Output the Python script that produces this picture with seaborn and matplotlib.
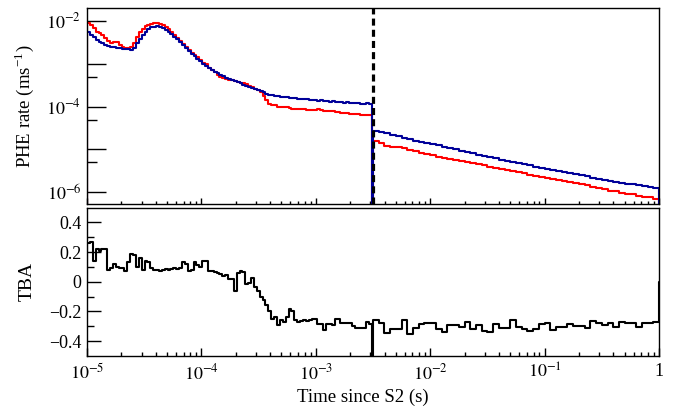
import numpy as np
import matplotlib
matplotlib.use("Agg")
import matplotlib.pyplot as plt
from matplotlib.ticker import FixedLocator, FuncFormatter, NullFormatter, LogLocator
import seaborn as sns

# ---------------------------------------------------------------- data
# Binning: ~40 log bins per decade from 10 us up to the end of the S2 window,
# a narrow empty bin at the window edge, then 20 log bins per decade to 1 s.
s2_window_end = 3.16e-3
gap_start = 3.10e-3
fast_edges = np.logspace(-5, np.log10(gap_start), 100)
slow_edges = np.logspace(np.log10(s2_window_end), 0, 51)

# PHE rate (ms^-1), bins inside the S2 window
blue_fast = [
    5.41e-3, 4.78e-3, 4.29e-3, 3.65e-3, 3.28e-3, 3.11e-3, 2.79e-3, 2.57e-3, 2.46e-3, 2.46e-3,
    2.37e-3, 2.34e-3, 2.25e-3, 2.21e-3, 2.19e-3, 2.05e-3, 2.37e-3, 3.11e-3, 3.85e-3, 4.78e-3,
    5.62e-3, 6.43e-3, 7.16e-3, 7.36e-3, 7.47e-3, 7.36e-3, 6.79e-3, 6.26e-3, 5.47e-3, 4.91e-3,
    4.29e-3, 3.85e-3, 3.28e-3, 2.79e-3, 2.37e-3, 2.02e-3, 1.72e-3, 1.50e-3, 1.31e-3, 1.18e-3,
    1.00e-3, 9.00e-4, 7.96e-4, 7.07e-4, 6.52e-4, 6.01e-4, 5.54e-4, 5.11e-4, 4.72e-4, 4.47e-4,
    4.23e-4, 4.01e-4, 3.80e-4, 3.51e-4, 3.24e-4, 2.98e-4, 2.83e-4, 2.75e-4, 2.61e-4, 2.47e-4,
    2.34e-4, 2.16e-4, 1.99e-4, 1.89e-4, 1.84e-4, 1.79e-4, 1.74e-4, 1.70e-4, 1.65e-4, 1.65e-4,
    1.61e-4, 1.56e-4, 1.56e-4, 1.52e-4, 1.52e-4, 1.48e-4, 1.48e-4, 1.44e-4, 1.44e-4, 1.40e-4,
    1.37e-4, 1.40e-4, 1.37e-4, 1.33e-4, 1.30e-4, 1.33e-4, 1.30e-4, 1.26e-4, 1.26e-4, 1.23e-4,
    1.26e-4, 1.23e-4, 1.19e-4, 1.19e-4, 1.19e-4, 1.16e-4, 1.16e-4, 1.19e-4, 1.13e-4,
]
red_fast = [
    9.13e-3, 8.19e-3, 6.97e-3, 5.62e-3, 5.18e-3, 4.78e-3, 4.07e-3, 3.46e-3, 3.11e-3, 3.28e-3,
    3.28e-3, 2.72e-3, 2.44e-3, 2.37e-3, 2.37e-3, 2.50e-3, 3.11e-3, 4.29e-3, 5.62e-3, 6.60e-3,
    7.56e-3, 8.19e-3, 8.65e-3, 8.89e-3, 8.89e-3, 8.65e-3, 8.19e-3, 7.36e-3, 6.43e-3, 5.62e-3,
    4.78e-3, 4.07e-3, 3.46e-3, 2.94e-3, 2.50e-3, 2.13e-3, 1.81e-3, 1.63e-3, 1.42e-3, 1.24e-3,
    1.06e-3, 9.76e-4, 8.09e-4, 7.26e-4, 6.34e-4, 5.54e-4, 4.98e-4, 4.64e-4, 4.35e-4, 4.08e-4,
    4.08e-4, 4.01e-4, 3.70e-4, 3.55e-4, 3.51e-4, 3.32e-4, 2.95e-4, 2.90e-4, 2.61e-4, 2.47e-4,
    2.22e-4, 1.79e-4, 1.44e-4, 1.16e-4, 1.10e-4, 1.07e-4, 9.89e-5, 9.63e-5, 9.89e-5, 9.63e-5,
    9.37e-5, 8.88e-5, 8.88e-5, 8.64e-5, 8.64e-5, 8.88e-5, 8.41e-5, 8.41e-5, 8.41e-5, 8.19e-5,
    8.64e-5, 8.19e-5, 7.97e-5, 7.97e-5, 7.76e-5, 7.97e-5, 7.35e-5, 7.35e-5, 7.16e-5, 7.16e-5,
    6.97e-5, 6.78e-5, 6.78e-5, 6.60e-5, 6.60e-5, 6.43e-5, 6.43e-5, 6.43e-5, 6.26e-5,
]
# Empty bin at the edge of the S2 window
blue_gap = 0.0
red_gap = 0.0
tba_gap = -1.0

# PHE rate (ms^-1), bins after the S2 window
blue_slow = [
    2.69e-5, 2.60e-5, 2.40e-5, 2.22e-5, 2.04e-5, 1.88e-5, 1.72e-5, 1.58e-5, 1.49e-5, 1.39e-5,
    1.32e-5, 1.24e-5, 1.15e-5, 1.08e-5, 1.00e-5, 9.40e-6, 8.61e-6, 8.10e-6, 7.59e-6, 7.05e-6,
    6.61e-6, 6.20e-6, 5.75e-6, 5.45e-6, 5.13e-6, 4.80e-6, 4.52e-6, 4.25e-6, 3.98e-6, 3.78e-6,
    3.55e-6, 3.36e-6, 3.16e-6, 3.00e-6, 2.82e-6, 2.67e-6, 2.48e-6, 2.34e-6, 2.19e-6, 2.05e-6,
    1.93e-6, 1.85e-6, 1.76e-6, 1.69e-6, 1.60e-6, 1.55e-6, 1.46e-6, 1.41e-6, 1.30e-6, 1.23e-6,
]
red_slow = [
    1.58e-5, 1.38e-5, 1.22e-5, 1.15e-5, 1.12e-5, 1.06e-5, 9.77e-6, 9.02e-6, 8.40e-6, 7.67e-6,
    7.30e-6, 6.68e-6, 6.17e-6, 5.95e-6, 5.56e-6, 5.40e-6, 5.13e-6, 4.73e-6, 4.50e-6, 4.27e-6,
    3.89e-6, 3.62e-6, 3.43e-6, 3.24e-6, 3.08e-6, 2.92e-6, 2.75e-6, 2.56e-6, 2.40e-6, 2.30e-6,
    2.16e-6, 2.04e-6, 1.96e-6, 1.84e-6, 1.70e-6, 1.61e-6, 1.53e-6, 1.45e-6, 1.34e-6, 1.26e-6,
    1.17e-6, 1.10e-6, 1.05e-6, 9.90e-7, 9.33e-7, 8.95e-7, 8.41e-7, 7.94e-7, 7.60e-7, 7.16e-7,
]
# Top/bottom asymmetry per bin
tba_fast = [
    0.26, 0.27, 0.14, 0.22, 0.21, 0.22, 0.22, 0.08, 0.09, 0.12,
    0.10, 0.09, 0.09, 0.07, 0.13, 0.19, 0.18, 0.10, 0.16, 0.08,
    0.14, 0.13, 0.09, 0.08, 0.08, 0.07, 0.08, 0.085, 0.08, 0.085,
    0.09, 0.085, 0.09, 0.13, 0.12, 0.075, 0.08, 0.13, 0.11, 0.10,
    0.14, 0.14, 0.075, 0.07, 0.065, 0.06, 0.05, 0.04, 0.045, 0.02,
    0.02, -0.06, 0.06, 0.07, 0.068, -0.016, -0.01, 0.025, -0.036, -0.06,
    -0.10, -0.12, -0.16, -0.20, -0.25, -0.24, -0.29, -0.26, -0.27, -0.24,
    -0.185, -0.20, -0.26, -0.27, -0.265, -0.26, -0.265, -0.26, -0.253, -0.253,
    -0.287, -0.287, -0.325, -0.287, -0.287, -0.29, -0.248, -0.248, -0.275, -0.275,
    -0.275, -0.275, -0.298, -0.31, -0.31, -0.31, -0.31, -0.27, -0.285,
]
tba_slow = [
    -0.26, -0.275, -0.343, -0.32, -0.32, -0.258, -0.355, -0.31, -0.287, -0.28,
    -0.28, -0.316, -0.339, -0.291, -0.291, -0.303, -0.271, -0.321, -0.291, -0.332,
    -0.339, -0.287, -0.31, -0.31, -0.258, -0.303, -0.321, -0.332, -0.316, -0.287,
    -0.28, -0.325, -0.303, -0.303, -0.287, -0.298, -0.298, -0.31, -0.264, -0.28,
    -0.294, -0.28, -0.303, -0.271, -0.275, -0.275, -0.303, -0.28, -0.275, -0.268,
]

rate_ticks = [1e-6, 1e-5, 1e-4, 1e-3, 1e-2]
rate_labelled = [1e-6, 1e-4, 1e-2]
rate_minor = [5e-6, 5e-5, 5e-4]
tba_ticks = [-0.4, -0.2, 0.0, 0.2, 0.4]
tba_minor = [-0.3, -0.1, 0.1, 0.3]
time_ticks = [1e-5, 1e-4, 1e-3, 1e-2, 1e-1, 1.0]

BLUE = "#000099"
RED = "#ff0000"

# ---------------------------------------------------------------- style
sns.set_theme(style="ticks")
plt.rcParams.update({
    "font.family": ["Liberation Serif", "DejaVu Serif"],
    "mathtext.fontset": "stix",
    "axes.edgecolor": "black",
    "axes.linewidth": 1.0,
    "xtick.color": "black",
    "ytick.color": "black",
    "text.color": "black",
    "axes.labelcolor": "black",
})

edges = np.concatenate([fast_edges, slow_edges])
blue = np.array(blue_fast + [blue_gap] + blue_slow)
red = np.array(red_fast + [red_gap] + red_slow)
tba = np.array(tba_fast + [tba_gap] + tba_slow)


def draw_hist(ax, edges, values, base, **kw):
    """Outline of a histogram, closed down to `base` at both ends."""
    v = np.asarray(values, dtype=float)
    x = np.concatenate([[edges[0]], edges[:-1], [edges[-1], edges[-1]]])
    y = np.concatenate([[base], v, [v[-1], base]])
    sns.lineplot(x=x, y=y, ax=ax, drawstyle="steps-post", estimator=None,
                 sort=False, legend=False, **kw)


def time_fmt(v, pos):
    if np.isclose(v, 1.0):
        return "1"
    return r"$10^{%d}$" % int(round(np.log10(v)))


def rate_fmt(v, pos):
    if any(np.isclose(v, t) for t in rate_labelled):
        return r"$10^{%d}$" % int(round(np.log10(v)))
    return ""


def tba_fmt(v, pos):
    if abs(v) < 1e-9:
        return "0"
    return ("%.1f" % v).replace("-", "\u2212")


fig = plt.figure(figsize=(6.78, 4.08), dpi=100)
ax1 = fig.add_axes([0.1283, 0.4988, 0.8437, 0.4816])
ax2 = fig.add_axes([0.1283, 0.1275, 0.8437, 0.3639])

# ---------------------------------------------------------------- top panel
ax1.set_xscale("log")
ax1.set_yscale("log")
floor = 1e-12
draw_hist(ax1, edges, np.where(red > 0, red, floor), floor, color=RED, lw=1.5)
draw_hist(ax1, edges, np.where(blue > 0, blue, floor), floor, color=BLUE, lw=1.5)
ax1.axvline(s2_window_end, color="black", lw=2.3, dashes=(2.2, 1.3))
ax1.set_xlim(1e-5, 1.0)
ax1.set_ylim(5.2e-7, 2.0e-2)
ax1.yaxis.set_major_locator(FixedLocator(rate_ticks))
ax1.yaxis.set_minor_locator(FixedLocator(rate_minor))
ax1.yaxis.set_major_formatter(FuncFormatter(rate_fmt))
ax1.yaxis.set_minor_formatter(NullFormatter())
ax1.xaxis.set_major_locator(FixedLocator(time_ticks))
ax1.xaxis.set_minor_locator(LogLocator(base=10, subs=np.arange(2, 10), numticks=20))
ax1.xaxis.set_major_formatter(NullFormatter())
ax1.xaxis.set_minor_formatter(NullFormatter())
ax1.tick_params(axis="y", which="major", direction="in", length=14, width=1.0,
                left=True, right=False, labelsize=13, pad=4)
ax1.tick_params(axis="y", which="minor", direction="in", length=7, width=1.0,
                left=True, right=False)
ax1.tick_params(axis="x", which="major", direction="in", length=4, width=1.0,
                bottom=True, top=False, labelbottom=False)
ax1.tick_params(axis="x", which="minor", direction="in", length=2.2, width=1.0,
                bottom=True, top=False)
ax1.set_ylabel(r"PHE rate (ms$^{\mathregular{-1}}$)", fontsize=13.5)
ax1.yaxis.set_label_coords(-0.09, 0.5)
ax1.set_xlabel("")

# ---------------------------------------------------------------- bottom panel
ax2.set_xscale("log")
draw_hist(ax2, edges, tba, 0.0, color="black", lw=1.5)
ax2.set_xlim(1e-5, 1.0)
ax2.set_ylim(-0.5, 0.5)
ax2.yaxis.set_major_locator(FixedLocator(tba_ticks))
ax2.yaxis.set_minor_locator(FixedLocator(tba_minor))
ax2.yaxis.set_major_formatter(FuncFormatter(tba_fmt))
ax2.xaxis.set_major_locator(FixedLocator(time_ticks))
ax2.xaxis.set_minor_locator(LogLocator(base=10, subs=np.arange(2, 10), numticks=20))
ax2.xaxis.set_major_formatter(FuncFormatter(time_fmt))
ax2.xaxis.set_minor_formatter(NullFormatter())
ax2.tick_params(axis="y", which="major", direction="in", length=10, width=1.0,
                left=True, right=False, labelsize=13, pad=4)
ax2.tick_params(axis="y", which="minor", direction="in", length=5, width=1.0,
                left=True, right=False)
ax2.tick_params(axis="x", which="major", direction="in", length=6, width=1.0,
                bottom=True, top=False, labelsize=13, pad=5)
ax2.tick_params(axis="x", which="minor", direction="in", length=3, width=1.0,
                bottom=True, top=False)
ax2.set_ylabel("TBA", fontsize=14)
ax2.yaxis.set_label_coords(-0.09, 0.5)
ax2.set_xlabel("Time since S2 (s)", fontsize=13.5, va="center")
ax2.xaxis.set_label_coords(0.4825, -0.276)

for ax in (ax1, ax2):
    for sp in ax.spines.values():
        sp.set_visible(True)
        sp.set_color("black")
        sp.set_linewidth(1.0)

fig.savefig("out.png", dpi=100)
